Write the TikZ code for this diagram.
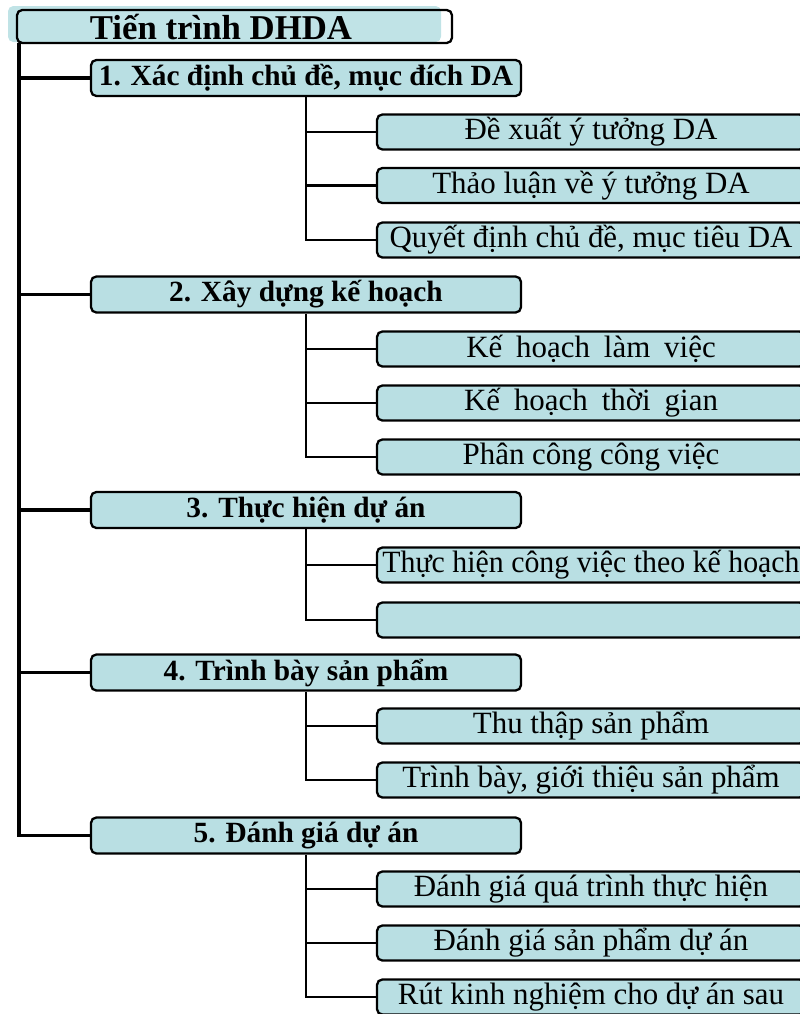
\documentclass[tikz,border=0pt]{standalone}
\usepackage{fontspec}
\setmainfont{Liberation Serif}
\definecolor{boxfill}{RGB}{185,223,227}
\definecolor{rootfill}{RGB}{192,227,230}
\newcommand{\wgap}{\hspace{0.2em}}
\begin{document}
\begin{tikzpicture}[x=0.02cm,y=-0.02cm,
	stagebox/.style={draw,line width=1.3pt,rounded corners=3pt,fill=boxfill,minimum width=8.6cm,minimum height=0.72cm,inner sep=0pt,font=\fontsize{16.7}{18}\selectfont\bfseries},
	taskbox/.style={draw,line width=1.3pt,rounded corners=3pt,fill=boxfill,minimum width=8.56cm,minimum height=0.7cm,inner sep=0pt,font=\fontsize{17.6}{19}\selectfont},
	trunk/.style={line width=2.2pt},
	twig/.style={line width=1.5pt}]
	\useasboundingbox (0,0) rectangle (800,1014);
	\clip (0,0) rectangle (800,1014);
	\fill[rootfill,rounded corners=3pt] (8,6) rectangle (441,42);
	\draw[line width=1.3pt,rounded corners=3pt] (17,10) rectangle (452,43);
	\node[font=\fontsize{19.8}{22}\selectfont\bfseries] (root) at (221,27) {Tiến trình DHDA};
	\coordinate (spine) at (19,43);

	\node[stagebox] (s1) at (306,78) {1. Xác định chủ đề, mục đích DA};
	\node[stagebox] (s2) at (306,294.5) {2. Xây dựng kế hoạch};
	\node[stagebox] (s3) at (306,510) {3. Thực hiện dự án};
	\node[stagebox] (s4) at (306,672.5) {4. Trình bày sản phẩm};
	\node[stagebox] (s5) at (306,835.5) {5. Đánh giá dự án};

	\node[taskbox] (c11) at (591,132) {Đề xuất ý tưởng DA};
	\node[taskbox] (c12) at (591,185.5) {Thảo luận về ý tưởng DA};
	\node[taskbox] (c13) at (591,240) {Quyết định chủ đề, mục tiêu DA};
	\node[taskbox] (c21) at (591,349) {Kế\wgap{} hoạch\wgap{} làm\wgap{} việc};
	\node[taskbox] (c22) at (591,403) {Kế\wgap{} hoạch\wgap{} thời\wgap{} gian};
	\node[taskbox] (c23) at (591,457) {Phân công công việc};
	\node[taskbox] (c31) at (591,565) {\scalebox{0.965}[1]{Thực hiện công việc theo kế hoạch}};
	\node[taskbox] (c32) at (591,620) {};
	\node[taskbox] (c41) at (591,726) {Thu thập sản phẩm};
	\node[taskbox] (c42) at (591,780) {Trình bày, giới thiệu sản phẩm};
	\node[taskbox] (c51) at (591,889) {Đánh giá quá trình thực hiện};
	\node[taskbox] (c52) at (591,943) {Đánh giá sản phẩm dự án};
	\node[taskbox] (c53) at (591,997) {Rút kinh nghiệm cho dự án sau};

	\draw[trunk] (spine) |- (s5.west);
	\draw[trunk] (spine |- s1.west) -- (s1.west);
	\draw[trunk] (spine |- s2.west) -- (s2.west);
	\draw[trunk] (spine |- s3.west) -- (s3.west);
	\draw[trunk] (spine |- s4.west) -- (s4.west);

	\draw[twig] (s1.south) |- (c13.west);
	\draw[twig] (s1.south |- c11.west) -- (c11.west);
	\draw[twig] (s1.south |- c12.west) -- (c12.west);
	\draw[twig] (s2.south) |- (c23.west);
	\draw[twig] (s2.south |- c21.west) -- (c21.west);
	\draw[twig] (s2.south |- c22.west) -- (c22.west);
	\draw[twig] (s3.south) |- (c32.west);
	\draw[twig] (s3.south |- c31.west) -- (c31.west);
	\draw[twig] (s4.south) |- (c42.west);
	\draw[twig] (s4.south |- c41.west) -- (c41.west);
	\draw[twig] (s5.south) |- (c53.west);
	\draw[twig] (s5.south |- c51.west) -- (c51.west);
	\draw[twig] (s5.south |- c52.west) -- (c52.west);
\end{tikzpicture}
\end{document}
